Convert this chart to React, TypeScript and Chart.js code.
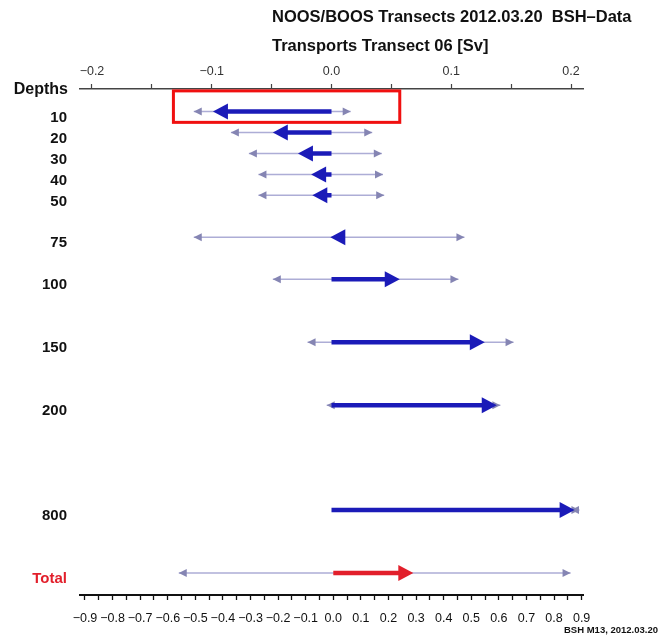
import React, { useEffect, useRef } from "react";
import { Chart, registerables } from "chart.js";

Chart.register(...registerables);

// ---- data ----
const rowLabels = ["10", "20", "30", "40", "50", "75", "100", "150", "200", "800", "Total"];
const rowSlots = [1, 2, 3, 4, 5, 7, 9, 12, 15, 20, 23];
const meanTransport = [-0.099, -0.049, -0.028, -0.017, -0.016, -0.001, 0.057, 0.128, 0.138, 0.203, 0.29];
const minTransport = [-0.115, -0.084, -0.069, -0.061, -0.061, -0.115, -0.049, -0.02, -0.004, 0.2, -0.56];
const maxTransport = [0.016, 0.034, 0.042, 0.043, 0.044, 0.111, 0.106, 0.152, 0.141, 0.207, 0.86];
const totalLabel = "Total";

const topTicks = [-0.2, -0.15, -0.1, -0.05, 0, 0.05, 0.1, 0.15, 0.2];
const bottomTicks = [
  -0.9, -0.85, -0.8, -0.75, -0.7, -0.65, -0.6, -0.55, -0.5, -0.45, -0.4, -0.35, -0.3, -0.25, -0.2, -0.15, -0.1, -0.05,
  0, 0.05, 0.1, 0.15, 0.2, 0.25, 0.3, 0.35, 0.4, 0.45, 0.5, 0.55, 0.6, 0.65, 0.7, 0.75, 0.8, 0.85, 0.9,
];

// highlighted region (data coordinates, top axis / row slots)
const highlightBox = { xMin: -0.132, xMax: 0.057, yMin: 0.02, yMax: 1.52 };

const titleLine1 = "NOOS/BOOS Transects 2012.03.20  BSH\u2013Data";
const titleLine2 = "Transports Transect 06 [Sv]";
const yAxisTitle = "Depths";
const footer = "BSH M13, 2012.03.20";

// ---- styles ----
const FONT = "'Liberation Sans', Arial, Helvetica, sans-serif";
const THIN_LINE = "#adadd6";
const THIN_HEAD = "#8585b3";
const THICK_BLUE = "#1b1bb8";
const THICK_RED = "#e21f2b";
const LABEL_RED = "#e21f2b";
const THICK_HEAD_LEN = 15;
const THICK_HEAD_HALF = 8;

function fmtTick(v: number): string {
  const isMajor = Math.abs(v * 10 - Math.round(v * 10)) < 1e-6;
  if (!isMajor) return "";
  const s = (Math.round(v * 10) / 10).toFixed(1);
  return s.replace("-", "\u2212");
}

function drawHead(ctx: CanvasRenderingContext2D, xTip: number, y: number, dir: number, len: number, half: number, color: string) {
  ctx.save();
  ctx.fillStyle = color;
  ctx.beginPath();
  ctx.moveTo(xTip, y);
  ctx.lineTo(xTip - dir * len, y - half);
  ctx.lineTo(xTip - dir * len, y + half);
  ctx.closePath();
  ctx.fill();
  ctx.restore();
}

const arrowPlugin = {
  id: "arrowHeads",
  beforeDatasetDraw(chart: any, args: any) {
    const ds: any = chart.data.datasets[args.index];
    if (!ds || ds.role !== "thick") return;
    const i = ds.rowIndex;
    const xs = chart.scales[ds.xAxisID];
    const v = meanTransport[i];
    const dir = v >= 0 ? 1 : -1;
    const x0 = xs.getPixelForValue(0);
    const xb = xs.getPixelForValue(v) - dir * (THICK_HEAD_LEN - 1);
    const ctx = chart.ctx;
    ctx.save();
    ctx.beginPath();
    if ((xb - x0) * dir > 0) {
      ctx.rect(Math.min(x0, xb) - 0.5, 0, Math.abs(xb - x0) + 1, chart.height);
    } else {
      ctx.rect(0, 0, 0, 0);
    }
    ctx.clip();
    ds._clipped = true;
  },
  afterDatasetDraw(chart: any, args: any) {
    const ds: any = chart.data.datasets[args.index];
    if (!ds || ds.rowIndex === undefined) return;
    const ctx = chart.ctx;
    if (ds._clipped) {
      ctx.restore();
      ds._clipped = false;
    }
    const i = ds.rowIndex;
    const xs = chart.scales[ds.xAxisID];
    const ys = chart.scales.y;
    const y = ys.getPixelForValue(rowSlots[i]);
    if (ds.role === "thin") {
      drawHead(ctx, xs.getPixelForValue(minTransport[i]), y, -1, 8, 4, THIN_HEAD);
      drawHead(ctx, xs.getPixelForValue(maxTransport[i]), y, 1, 8, 4, THIN_HEAD);
    } else {
      const v = meanTransport[i];
      const dir = v >= 0 ? 1 : -1;
      drawHead(ctx, xs.getPixelForValue(v), y, dir, THICK_HEAD_LEN, THICK_HEAD_HALF, ds.borderColor);
    }
  },
};

const decorPlugin = {
  id: "decor",
  afterDraw(chart: any) {
    const ctx = chart.ctx;
    const xs = chart.scales.x;
    const ys = chart.scales.y;
    ctx.save();
    ctx.fillStyle = "#111";
    ctx.font = `bold 16.5px ${FONT}`;
    ctx.textAlign = "left";
    ctx.textBaseline = "middle";
    ctx.fillText(titleLine1, 272, 17);
    ctx.fillText(titleLine2, 272, 46);
    ctx.font = `bold 16px ${FONT}`;
    ctx.textAlign = "right";
    ctx.fillText(yAxisTitle, 68, chart.chartArea.top + 1);
    ctx.font = `bold 9.5px ${FONT}`;
    ctx.textAlign = "right";
    ctx.fillText(footer, 658, 630);
    const x0 = xs.getPixelForValue(highlightBox.xMin);
    const x1 = xs.getPixelForValue(highlightBox.xMax);
    const y0 = ys.getPixelForValue(highlightBox.yMin);
    const y1 = ys.getPixelForValue(highlightBox.yMax);
    ctx.strokeStyle = "#f01010";
    ctx.lineWidth = 3;
    ctx.strokeRect(Math.min(x0, x1), Math.min(y0, y1), Math.abs(x1 - x0), Math.abs(y1 - y0));
    ctx.restore();
  },
};

export default function App() {
  const ref = useRef<HTMLCanvasElement | null>(null);

  useEffect(() => {
    if (!ref.current) return;
    const datasets: any[] = [];
    rowLabels.forEach((lab, i) => {
      const axis = lab === totalLabel ? "x2" : "x";
      datasets.push({
        label: lab + " range",
        role: "thin",
        rowIndex: i,
        xAxisID: axis,
        yAxisID: "y",
        data: [
          { x: minTransport[i], y: rowSlots[i] },
          { x: maxTransport[i], y: rowSlots[i] },
        ],
        showLine: true,
        borderColor: THIN_LINE,
        borderWidth: 1.5,
        pointRadius: 0,
        order: 2,
      });
      datasets.push({
        label: lab + " mean",
        role: "thick",
        rowIndex: i,
        xAxisID: axis,
        yAxisID: "y",
        data: [
          { x: 0, y: rowSlots[i] },
          { x: meanTransport[i], y: rowSlots[i] },
        ],
        showLine: true,
        borderColor: lab === totalLabel ? THICK_RED : THICK_BLUE,
        borderWidth: 4.5,
        borderCapStyle: "butt",
        pointRadius: 0,
        order: 1,
      });
    });

    const chart = new Chart(ref.current, {
      type: "scatter",
      data: { datasets },
      plugins: [arrowPlugin, decorPlugin],
      options: {
        animation: false,
        responsive: true,
        maintainAspectRatio: false,
        layout: { padding: { left: 0, right: 78, top: 0, bottom: 0 } },
        plugins: {
          legend: { display: false },
          tooltip: { enabled: false },
          title: { display: false },
        },
        scales: {
          x: {
            type: "linear",
            position: "top",
            min: -0.21,
            max: 0.21,
            afterBuildTicks: (s: any) => {
              s.ticks = topTicks.map((v) => ({ value: v }));
            },
            afterFit: (s: any) => {
              s.height = 89;
            },
            ticks: {
              autoSkip: false,
              maxRotation: 0,
              minRotation: 0,
              padding: 5,
              color: "#333",
              font: { family: FONT, size: 12.5 },
              callback: (v: any) => fmtTick(Number(v)),
            },
            grid: {
              display: true,
              drawOnChartArea: false,
              drawTicks: true,
              tickLength: 5,
              tickColor: "#444",
              tickWidth: 1.2,
            },
            border: { display: true, color: "#444", width: 1.5 },
          },
          x2: {
            type: "linear",
            position: "bottom",
            min: -0.918,
            max: 0.905,
            afterBuildTicks: (s: any) => {
              s.ticks = bottomTicks.map((v) => ({ value: v }));
            },
            afterFit: (s: any) => {
              s.height = 41;
            },
            ticks: {
              autoSkip: false,
              maxRotation: 0,
              minRotation: 0,
              padding: 11,
              color: "#111",
              font: { family: FONT, size: 12.5 },
              callback: (v: any) => fmtTick(Number(v)),
            },
            grid: {
              display: true,
              drawOnChartArea: false,
              drawTicks: true,
              tickLength: 5,
              tickColor: "#111",
              tickWidth: 1.3,
            },
            border: { display: true, color: "#111", width: 2 },
          },
          y: {
            type: "linear",
            reverse: true,
            min: -0.07,
            max: 24.05,
            afterBuildTicks: (s: any) => {
              s.ticks = rowSlots.map((v) => ({ value: v }));
            },
            afterFit: (s: any) => {
              s.width = 80;
            },
            ticks: {
              autoSkip: false,
              padding: 13,
              labelOffset: 6,
              font: { family: FONT, size: 15, weight: "bold" },
              color: (c: any) => (c.tick && c.tick.value === rowSlots[rowLabels.indexOf(totalLabel)] ? LABEL_RED : "#111"),
              callback: (v: any) => {
                const idx = rowSlots.indexOf(Number(v));
                return idx >= 0 ? rowLabels[idx] : "";
              },
            },
            grid: { display: false, drawTicks: false },
            border: { display: false },
          },
        },
      } as any,
    });
    return () => chart.destroy();
  }, []);

  return (
    <div style={{ position: "absolute", left: 0, top: 0, width: 661, height: 636, background: "#fff" }}>
      <canvas ref={ref} />
    </div>
  );
}
